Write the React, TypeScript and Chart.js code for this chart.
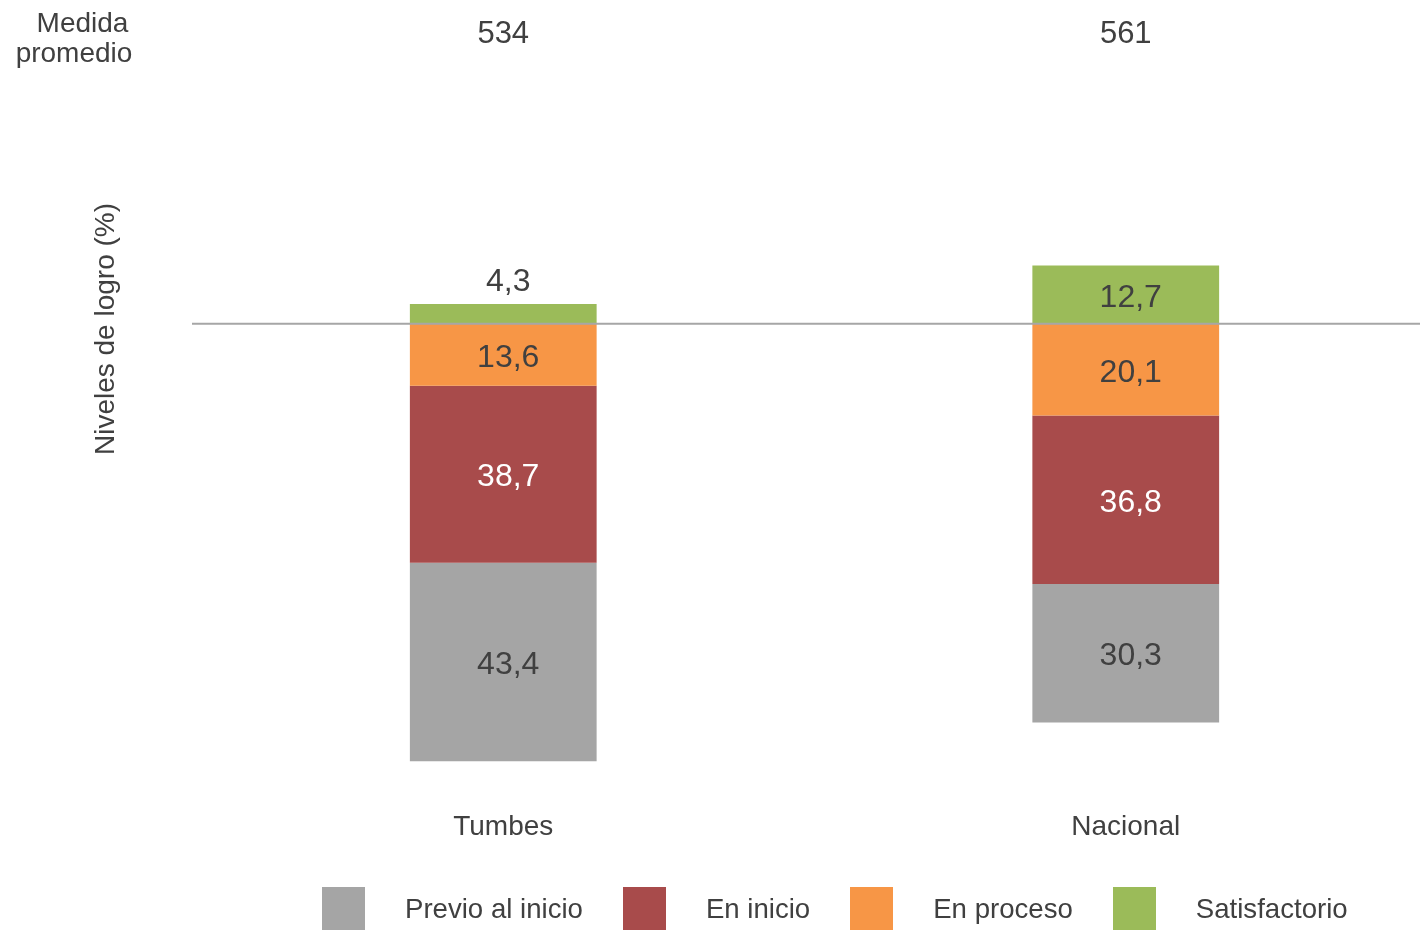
import React, { useEffect, useRef } from 'react';
import { Chart, registerables } from 'chart.js';

Chart.register(...registerables);

const categories = ['Tumbes', 'Nacional'];
const averageScores = [534, 561];
const previoAlInicio = [43.4, 30.3];
const enInicio = [38.7, 36.8];
const enProceso = [13.6, 20.1];
const satisfactorio = [4.3, 12.7];
const levelLabels = ['Previo al inicio', 'En inicio', 'En proceso', 'Satisfactorio'];
const levelColors = ['#A5A5A5', '#A84B4B', '#F79646', '#9BBB59'];
const yAxisTitle = 'Niveles de logro (%)';
const averageTitle = ['Medida', 'promedio'];

const FONT = '"Liberation Sans", Arial, Helvetica, sans-serif';
const TEXT = '#404040';

const fmt = (v: number) => Math.abs(v).toFixed(1).replace('.', ',');

const overlayPlugin = {
  id: 'overlay',
  afterDatasetsDraw(chart: any) {
    const ctx = chart.ctx;
    const ys = chart.scales.y;
    const xs = chart.scales.x;
    const zero = ys.getPixelForValue(0);
    ctx.save();
    // zero baseline
    ctx.strokeStyle = '#A6A6A6';
    ctx.lineWidth = 2;
    ctx.beginPath();
    ctx.moveTo(chart.chartArea.left, zero);
    ctx.lineTo(chart.width, zero);
    ctx.stroke();

    // value labels
    ctx.font = `32px ${FONT}`;
    ctx.textAlign = 'center';
    ctx.textBaseline = 'alphabetic';
    chart.data.datasets.forEach((ds: any, di: number) => {
      const meta = chart.getDatasetMeta(di);
      meta.data.forEach((el: any, i: number) => {
        const v = ds.data[i] as number;
        const p = el.getProps(['x', 'y', 'base'], true);
        const top = Math.min(p.y, p.base);
        const bottom = Math.max(p.y, p.base);
        ctx.fillStyle = ds.labelColor;
        if (bottom - top < 30) {
          ctx.fillText(fmt(v), p.x + 5, top - 13);
        } else {
          ctx.fillText(fmt(v), p.x + 5, (top + bottom) / 2 + 12);
        }
      });
    });

    // average scores
    ctx.font = `31px ${FONT}`;
    ctx.fillStyle = TEXT;
    categories.forEach((_, i) => {
      ctx.fillText(String(averageScores[i]), xs.getPixelForValue(i), 43);
    });

    // "Medida promedio"
    ctx.font = `28px ${FONT}`;
    ctx.fillText(averageTitle[0], 82.5, 32);
    ctx.fillText(averageTitle[1], 74, 61.5);

    // y axis title
    ctx.translate(113.5, 329);
    ctx.rotate(-Math.PI / 2);
    ctx.fillText(yAxisTitle, 0, 0);
    ctx.restore();
  },
};

export default function App() {
  const canvasRef = useRef<HTMLCanvasElement | null>(null);

  useEffect(() => {
    if (!canvasRef.current) return;
    const chart = new Chart(canvasRef.current, {
      type: 'bar',
      data: {
        labels: categories,
        datasets: [
          { label: levelLabels[3], data: satisfactorio, backgroundColor: levelColors[3], labelColor: TEXT } as any,
          { label: levelLabels[2], data: enProceso.map((v) => -v), backgroundColor: levelColors[2], labelColor: TEXT } as any,
          { label: levelLabels[1], data: enInicio.map((v) => -v), backgroundColor: levelColors[1], labelColor: '#FFFFFF' } as any,
          { label: levelLabels[0], data: previoAlInicio.map((v) => -v), backgroundColor: levelColors[0], labelColor: TEXT } as any,
        ],
      },
      options: {
        responsive: false,
        animation: false,
        layout: { padding: { top: 95, left: 192, right: 3, bottom: 0 } },
        datasets: { bar: { categoryPercentage: 1, barPercentage: 0.3 } },
        plugins: {
          legend: { display: false },
          tooltip: { enabled: false },
          title: { display: false },
        },
        scales: {
          x: {
            stacked: true,
            grid: { display: false, drawTicks: false },
            border: { display: false },
            ticks: { font: { family: FONT, size: 28 }, color: TEXT, padding: 29 },
            afterFit: (s: any) => {
              s.height = 149;
            },
          },
          y: { stacked: true, display: false, min: -100, max: 50 },
        },
      } as any,
      plugins: [overlayPlugin],
    });
    return () => chart.destroy();
  }, []);

  const legendOrder = [0, 1, 2, 3];

  return (
    <div style={{ position: 'fixed', left: 0, top: 0, width: 1440, height: 930, background: '#FFFFFF' }}>
      <canvas ref={canvasRef} width={1440} height={930} style={{ display: 'block' }} />
      <div
        style={{
          position: 'absolute',
          left: 322,
          top: 887,
          display: 'flex',
          alignItems: 'center',
          fontFamily: FONT,
          fontSize: 27.6,
          color: TEXT,
          lineHeight: '43px',
          whiteSpace: 'nowrap',
        }}
      >
        {legendOrder.map((k) => (
          <div key={k} style={{ display: 'flex', alignItems: 'center', marginRight: 40 }}>
            <div style={{ width: 43, height: 43, background: levelColors[k], marginRight: 40 }} />
            <span>{levelLabels[k]}</span>
          </div>
        ))}
      </div>
    </div>
  );
}
